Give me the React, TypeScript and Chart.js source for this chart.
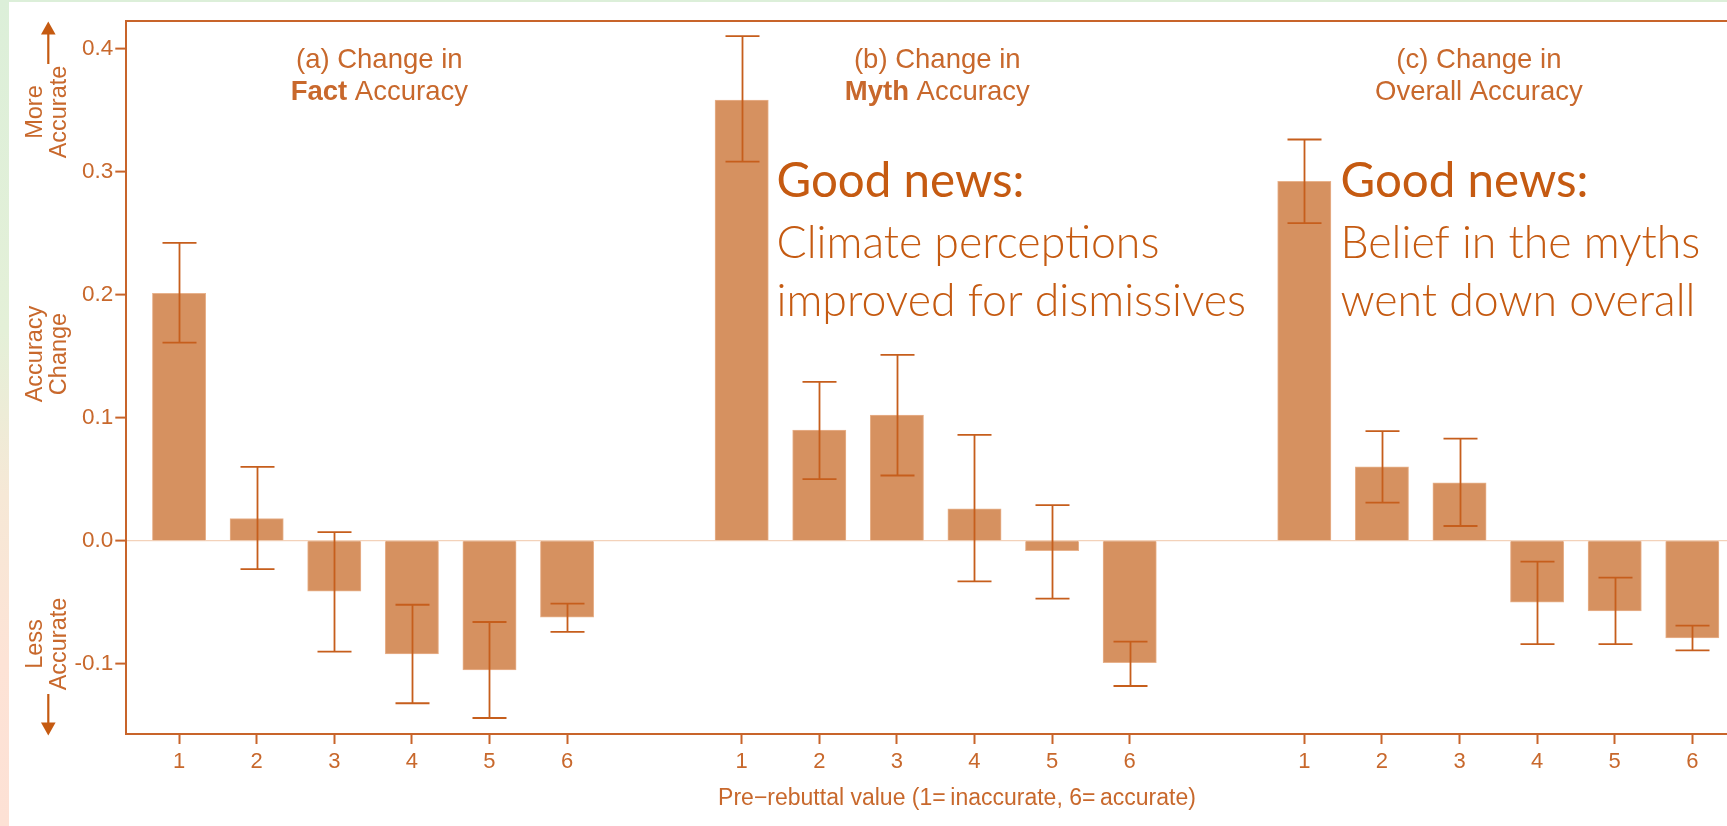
import React, { useEffect, useRef } from 'react';
import { Chart, registerables } from 'chart.js';

Chart.register(...registerables);

// ---------------- data ----------------
const categories = ['1', '2', '3', '4', '5', '6'];

const factChange = [0.201, 0.018, -0.041, -0.092, -0.105, -0.062];
const factUpper = [0.242, 0.060, 0.007, -0.052, -0.066, -0.051];
const factLower = [0.161, -0.023, -0.090, -0.132, -0.144, -0.074];

const mythChange = [0.358, 0.090, 0.102, 0.026, -0.008, -0.099];
const mythUpper = [0.410, 0.129, 0.151, 0.086, 0.029, -0.082];
const mythLower = [0.308, 0.050, 0.053, -0.033, -0.047, -0.118];

const overallChange = [0.292, 0.060, 0.047, -0.050, -0.057, -0.079];
const overallUpper = [0.326, 0.089, 0.083, -0.017, -0.030, -0.069];
const overallLower = [0.258, 0.031, 0.012, -0.084, -0.084, -0.089];

const panelTitleLine1 = ['(a) Change in', '(b) Change in', '(c) Change in'];
const panelTitleBold = ['Fact', 'Myth', ''];
const panelTitleRest = ['Accuracy', 'Accuracy', 'Overall Accuracy'];

const yTitleTop = ['More', 'Accurate'];
const yTitleMid = ['Accuracy', 'Change'];
const yTitleBottom = ['Less', 'Accurate'];
const xAxisTitle = 'Pre\u2212rebuttal value (1=\u2009inaccurate, 6=\u2009accurate)';

const noteHeading = 'Good news:';
const mythNote = ['Climate perceptions', 'improved for dismissives'];
const overallNote = ['Belief in the myths', 'went down overall'];

// ---------------- layout / style ----------------
const W = 1727;
const H = 826;
const PANEL_OFFSETS = [0, 7.25, 14.5];
const X_MIN = 0.32;
const X_MAX = 20.947;
const Y_MIN = -0.157;
const Y_MAX = 0.4225;

const AXIS = '#c8642a';
const TEXT = '#c8682c';
const BAR = '#d69160';
const BAR_EDGE = '#e8b28c';
const ERR = '#c65e1c';
const NOTE = '#c55a11';
const ZERO = '#f3d2ba';
const SANS = '"Liberation Sans", Arial, Helvetica, sans-serif';
const NOTE_FONT = 'Lato, "Open Sans", sans-serif';

const panels = [
  { change: factChange, upper: factUpper, lower: factLower },
  { change: mythChange, upper: mythUpper, lower: mythLower },
  { change: overallChange, upper: overallUpper, lower: overallLower },
];

const tickPositions: number[] = [];
PANEL_OFFSETS.forEach((off) => categories.forEach((_, i) => tickPositions.push(off + i + 1)));

function fitSize(ctx: CanvasRenderingContext2D, text: string, weight: number, family: string, target: number) {
  ctx.font = `${weight} 100px ${family}`;
  const w = ctx.measureText(text).width;
  return (100 * target) / w;
}

const TITLE_SIZE = 27.5;

const decorPlugin = {
  id: 'decor',
  afterDatasetsDraw(chart: any) {
    const ctx: CanvasRenderingContext2D = chart.ctx;
    const xs = chart.scales.x;
    const ys = chart.scales.y;
    ctx.save();
    ctx.strokeStyle = ERR;
    ctx.lineWidth = 1.8;
    panels.forEach((p, pi) => {
      p.upper.forEach((u, i) => {
        const x = Math.round(xs.getPixelForValue(PANEL_OFFSETS[pi] + i + 1)) + 0.5;
        const y1 = ys.getPixelForValue(u);
        const y2 = ys.getPixelForValue(p.lower[i]);
        ctx.beginPath();
        ctx.moveTo(x, y1);
        ctx.lineTo(x, y2);
        ctx.moveTo(x - 17, y1);
        ctx.lineTo(x + 17, y1);
        ctx.moveTo(x - 17, y2);
        ctx.lineTo(x + 17, y2);
        ctx.stroke();
      });
    });
    ctx.restore();
  },
  afterDraw(chart: any) {
    const ctx: CanvasRenderingContext2D = chart.ctx;
    const xs = chart.scales.x;
    ctx.save();

    // panel titles
    const titleCenters = [3.58, 10.77, 17.75];
    ctx.fillStyle = TEXT;
    ctx.textBaseline = 'alphabetic';
    panelTitleLine1.forEach((t, i) => {
      const cx = xs.getPixelForValue(titleCenters[i]);
      ctx.font = `400 ${TITLE_SIZE}px ${SANS}`;
      ctx.textAlign = 'center';
      ctx.fillText(t, cx, 67.5);
      const bold = panelTitleBold[i];
      const rest = bold ? ' ' + panelTitleRest[i] : panelTitleRest[i];
      ctx.font = `700 ${TITLE_SIZE}px ${SANS}`;
      const bw = bold ? ctx.measureText(bold).width : 0;
      ctx.font = `400 ${TITLE_SIZE}px ${SANS}`;
      const rw = ctx.measureText(rest).width;
      const start = cx - (bw + rw) / 2;
      ctx.textAlign = 'left';
      if (bold) {
        ctx.font = `700 ${TITLE_SIZE}px ${SANS}`;
        ctx.fillText(bold, start, 99.5);
      }
      ctx.font = `400 ${TITLE_SIZE}px ${SANS}`;
      ctx.fillText(rest, start + bw, 99.5);
    });

    // y axis titles (rotated)
    const drawRot = (lines: string[], cy: number) => {
      ctx.save();
      ctx.font = `400 23.5px ${SANS}`;
      ctx.fillStyle = TEXT;
      ctx.textAlign = 'center';
      ctx.textBaseline = 'middle';
      const xsPos = [35.5, 60];
      lines.forEach((l, i) => {
        ctx.save();
        ctx.translate(xsPos[i], cy);
        ctx.rotate(-Math.PI / 2);
        ctx.fillText(l, 0, 0);
        ctx.restore();
      });
      ctx.restore();
    };
    drawRot(yTitleTop, 112);
    drawRot(yTitleMid, 354);
    drawRot(yTitleBottom, 644);

    // arrows
    ctx.strokeStyle = NOTE;
    ctx.fillStyle = NOTE;
    ctx.lineWidth = 2.2;
    ctx.beginPath();
    ctx.moveTo(48.3, 64);
    ctx.lineTo(48.3, 33);
    ctx.stroke();
    ctx.beginPath();
    ctx.moveTo(48.3, 21.5);
    ctx.lineTo(41, 34.5);
    ctx.lineTo(55.6, 34.5);
    ctx.closePath();
    ctx.fill();
    ctx.beginPath();
    ctx.moveTo(48.3, 694);
    ctx.lineTo(48.3, 724);
    ctx.stroke();
    ctx.beginPath();
    ctx.moveTo(48.3, 735.5);
    ctx.lineTo(41, 722.5);
    ctx.lineTo(55.6, 722.5);
    ctx.closePath();
    ctx.fill();

    // x axis title
    ctx.fillStyle = TEXT;
    ctx.font = `400 23px ${SANS}`;
    ctx.textAlign = 'center';
    ctx.textBaseline = 'middle';
    ctx.fillText(xAxisTitle, 957, 798.5);

    // notes
    ctx.fillStyle = NOTE;
    ctx.textAlign = 'left';
    ctx.textBaseline = 'alphabetic';
    const headSize = fitSize(ctx, noteHeading, 400, NOTE_FONT, 248);
    const bodySize = fitSize(ctx, mythNote[0], 300, NOTE_FONT, 383);
    const notes = [
      { x: 776.5, lines: mythNote },
      { x: 1340.5, lines: overallNote },
    ];
    notes.forEach((n) => {
      ctx.font = `400 ${headSize}px ${NOTE_FONT}`;
      ctx.fillText(noteHeading, n.x, 197);
      ctx.font = `300 ${bodySize}px ${NOTE_FONT}`;
      ctx.fillText(n.lines[0], n.x, 258);
      ctx.fillText(n.lines[1], n.x, 316);
    });

    ctx.restore();
  },
};

export default function App() {
  const ref = useRef<HTMLCanvasElement | null>(null);

  useEffect(() => {
    if (!ref.current) return;
    const datasets = panels.map((p, pi) => ({
      data: p.change.map((v, i) => ({ x: PANEL_OFFSETS[pi] + i + 1, y: v })),
      backgroundColor: BAR,
      borderColor: BAR_EDGE,
      borderWidth: 1,
      borderSkipped: 'start' as const,
      barThickness: 53.3,
      grouped: false,
    }));

    const chart = new Chart(ref.current, {
      type: 'bar',
      data: { datasets },
      options: {
        responsive: false,
        animation: false,
        devicePixelRatio: 1,
        layout: { padding: 0 },
        plugins: { legend: { display: false }, tooltip: { enabled: false }, title: { display: false } },
        scales: {
          x: {
            type: 'linear',
            position: 'bottom',
            min: X_MIN,
            max: X_MAX,
            offset: false,
            afterFit: (s: any) => {
              s.height = H - 734;
            },
            afterBuildTicks: (s: any) => {
              s.ticks = tickPositions.map((v) => ({ value: v }));
            },
            grid: {
              offset: false,
              drawOnChartArea: false,
              drawTicks: true,
              tickLength: 10,
              tickColor: AXIS,
              tickWidth: 2,
            },
            border: { display: true, color: AXIS, width: 2 },
            ticks: {
              autoSkip: false,
              maxRotation: 0,
              padding: 5,
              color: TEXT,
              font: { family: SANS, size: 22 },
              callback: (_v: any, i: number) => categories[i % categories.length],
            },
          },
          xTop: {
            type: 'linear',
            position: 'top',
            min: X_MIN,
            max: X_MAX,
            offset: false,
            afterFit: (s: any) => {
              s.height = 20.7;
            },
            grid: { display: false, drawOnChartArea: false, drawTicks: false },
            border: { display: true, color: AXIS, width: 2 },
            ticks: { display: false },
          },
          y: {
            type: 'linear',
            position: 'left',
            min: Y_MIN,
            max: Y_MAX,
            afterFit: (s: any) => {
              s.width = 126.3;
            },
            grid: {
              drawOnChartArea: true,
              color: (c: any) => (c.tick && Math.abs(c.tick.value) < 1e-9 ? ZERO : 'rgba(0,0,0,0)'),
              lineWidth: 1.2,
              tickColor: AXIS,
              tickWidth: 2,
              tickLength: 11,
            },
            border: { display: true, color: AXIS, width: 2 },
            ticks: {
              stepSize: 0.1,
              includeBounds: false,
              padding: 2,
              color: TEXT,
              font: { family: SANS, size: 22.5 },
              callback: (v: any) => (Math.abs(Number(v)) < 1e-9 ? '0.0' : Number(v).toFixed(1)),
            },
          },
        },
      } as any,
      plugins: [decorPlugin as any],
    });
    return () => chart.destroy();
  }, []);

  return (
    <div
      style={{
        position: 'fixed',
        left: 0,
        top: 0,
        width: W,
        height: H,
        overflow: 'hidden',
        background: 'linear-gradient(to bottom, #dcefd9 0%, #e4f0d8 40%, #f6e8d6 60%, #fde3d6 80%, #fde1d5 100%)',
      }}
    >
      <div style={{ position: 'absolute', left: 8.5, top: 2, right: 0, bottom: 0, background: '#ffffff' }} />
      <canvas
        ref={ref}
        width={W}
        height={H}
        style={{ position: 'absolute', left: 0, top: 0, width: W, height: H, display: 'block' }}
      />
    </div>
  );
}
